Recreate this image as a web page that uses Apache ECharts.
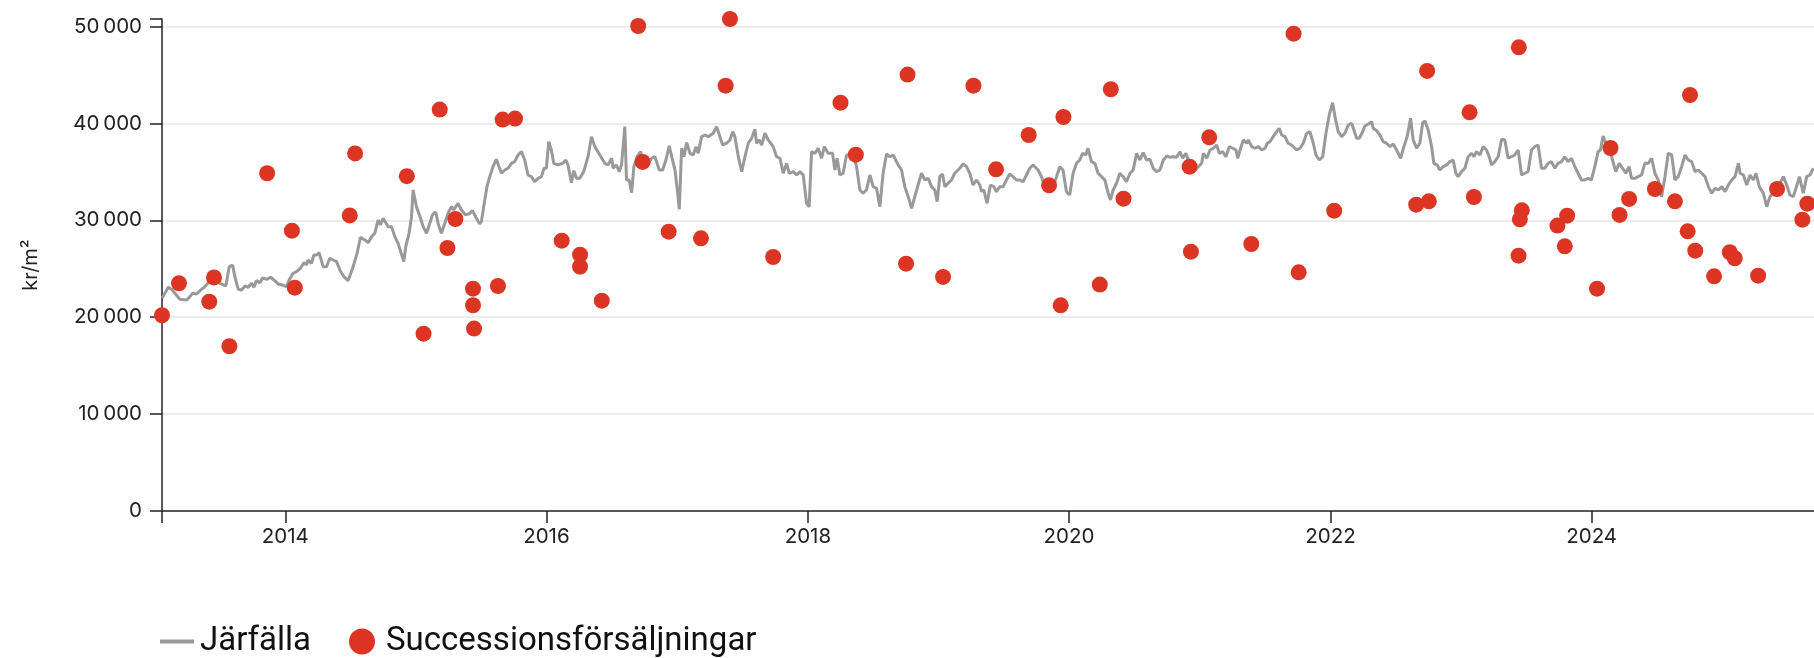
<!DOCTYPE html>
<html>
<head>
<meta charset="utf-8">
<script src="https://cdn.jsdelivr.net/npm/echarts@6/dist/echarts.min.js"></script>
<style>
html,body{margin:0;padding:0;background:#fff;}
#chart{width:1814px;height:658px;}
</style>
</head>
<body>
<div id="chart"></div>
<script>
// ---- data (x as decimal years) ----
const seriesNames = ['Järfälla', 'Successionsförsäljningar'];
const axisStartYear = 2013.056;
const axisEndYear = 2025.700;
const xTickYears = [2014, 2016, 2018, 2020, 2022, 2024];
const yTicks = [0, 10000, 20000, 30000, 40000, 50000];

const lineYears = [
2013.056,2013.104,2013.130,2013.155,2013.193,2013.245,2013.270,2013.290,2013.321,2013.359,
2013.385,2013.410,2013.436,2013.469,2013.499,2013.545,2013.571,2013.597,2013.614,2013.640,
2013.666,2013.691,2013.716,2013.742,2013.760,2013.780,2013.806,2013.826,2013.857,2013.888,
2013.913,2013.946,2013.984,2014.010,2014.030,2014.060,2014.086,2014.117,2014.142,2014.163,
2014.175,2014.201,2014.219,2014.240,2014.259,2014.290,2014.316,2014.341,2014.367,2014.393,
2014.418,2014.449,2014.481,2014.520,2014.550,2014.576,2014.609,2014.635,2014.661,2014.686,
2014.711,2014.729,2014.749,2014.788,2014.814,2014.839,2014.864,2014.908,2014.923,2014.948,
2014.967,2014.979,2015.005,2015.036,2015.056,2015.082,2015.107,2015.127,2015.153,2015.170,
2015.196,2015.222,2015.247,2015.273,2015.290,2015.323,2015.349,2015.382,2015.413,2015.434,
2015.464,2015.489,2015.502,2015.528,2015.545,2015.566,2015.591,2015.617,2015.637,2015.656,
2015.681,2015.706,2015.732,2015.757,2015.783,2015.809,2015.834,2015.859,2015.885,2015.910,
2015.936,2015.962,2015.982,2016.000,2016.018,2016.038,2016.056,2016.089,2016.127,2016.148,
2016.165,2016.191,2016.209,2016.230,2016.255,2016.285,2016.318,2016.344,2016.370,2016.408,
2016.446,2016.471,2016.498,2016.510,2016.536,2016.556,2016.574,2016.599,2016.612,2016.632,
2016.651,2016.668,2016.693,2016.720,2016.752,2016.778,2016.804,2016.829,2016.862,2016.888,
2016.913,2016.938,2016.957,2016.982,2017.003,2017.015,2017.033,2017.051,2017.072,2017.097,
2017.122,2017.143,2017.160,2017.186,2017.212,2017.237,2017.275,2017.301,2017.326,2017.347,
2017.378,2017.403,2017.424,2017.441,2017.467,2017.493,2017.518,2017.543,2017.569,2017.594,
2017.607,2017.627,2017.646,2017.671,2017.696,2017.715,2017.734,2017.760,2017.786,2017.811,
2017.837,2017.857,2017.888,2017.914,2017.939,2017.964,2017.990,2018.010,2018.028,2018.054,
2018.079,2018.105,2018.125,2018.155,2018.189,2018.207,2018.224,2018.245,2018.270,2018.296,
2018.347,2018.373,2018.398,2018.423,2018.449,2018.475,2018.500,2018.526,2018.551,2018.576,
2018.602,2018.628,2018.653,2018.666,2018.691,2018.717,2018.742,2018.768,2018.794,2018.819,
2018.844,2018.870,2018.896,2018.921,2018.947,2018.972,2018.990,2019.010,2019.031,2019.049,
2019.074,2019.100,2019.125,2019.163,2019.189,2019.215,2019.240,2019.265,2019.291,2019.317,
2019.330,2019.347,2019.372,2019.398,2019.424,2019.444,2019.470,2019.495,2019.521,2019.546,
2019.571,2019.597,2019.623,2019.648,2019.674,2019.699,2019.724,2019.737,2019.763,2019.789,
2019.814,2019.839,2019.865,2019.904,2019.929,2019.954,2019.980,2020.005,2020.031,2020.057,
2020.082,2020.103,2020.128,2020.145,2020.171,2020.197,2020.222,2020.248,2020.273,2020.299,
2020.317,2020.337,2020.363,2020.388,2020.413,2020.439,2020.465,2020.490,2020.516,2020.541,
2020.566,2020.592,2020.618,2020.643,2020.669,2020.694,2020.720,2020.746,2020.771,2020.796,
2020.822,2020.847,2020.868,2020.893,2020.911,2020.937,2020.962,2020.987,2021.013,2021.026,
2021.052,2021.077,2021.102,2021.128,2021.148,2021.174,2021.199,2021.225,2021.251,2021.276,
2021.289,2021.307,2021.332,2021.358,2021.370,2021.396,2021.421,2021.447,2021.473,2021.498,
2021.516,2021.536,2021.561,2021.587,2021.607,2021.626,2021.651,2021.676,2021.702,2021.715,
2021.741,2021.766,2021.791,2021.817,2021.842,2021.868,2021.888,2021.914,2021.940,2021.965,
2021.990,2022.016,2022.034,2022.059,2022.085,2022.110,2022.136,2022.162,2022.187,2022.200,
2022.220,2022.246,2022.263,2022.289,2022.315,2022.327,2022.353,2022.378,2022.403,2022.429,
2022.455,2022.480,2022.506,2022.537,2022.562,2022.587,2022.613,2022.633,2022.659,2022.684,
2022.705,2022.723,2022.748,2022.774,2022.791,2022.817,2022.837,2022.863,2022.889,2022.914,
2022.939,2022.960,2022.977,2023.003,2023.029,2023.054,2023.080,2023.098,2023.118,2023.144,
2023.169,2023.195,2023.215,2023.233,2023.258,2023.284,2023.310,2023.335,2023.360,2023.386,
2023.411,2023.437,2023.463,2023.488,2023.513,2023.539,2023.565,2023.590,2023.616,2023.641,
2023.666,2023.692,2023.718,2023.743,2023.769,2023.794,2023.819,2023.845,2023.871,2023.896,
2023.922,2023.947,2023.972,2023.998,2024.024,2024.049,2024.067,2024.087,2024.108,2024.133,
2024.159,2024.184,2024.210,2024.236,2024.261,2024.286,2024.305,2024.330,2024.355,2024.381,
2024.406,2024.432,2024.458,2024.483,2024.508,2024.534,2024.560,2024.585,2024.611,2024.636,
2024.661,2024.687,2024.713,2024.738,2024.764,2024.789,2024.814,2024.840,2024.866,2024.891,
2024.917,2024.942,2024.968,2024.994,2025.019,2025.044,2025.070,2025.095,2025.121,2025.134,
2025.159,2025.185,2025.210,2025.235,2025.256,2025.281,2025.312,2025.338,2025.363,2025.388,
2025.415,2025.440,2025.465,2025.491,2025.516,2025.542,2025.562,2025.588,2025.618,2025.644,
2025.669,2025.695
];
const lineValues = [
21950,23090,22880,22470,21850,21780,22120,22470,22390,22880,
23150,23560,23560,23840,23500,23220,25210,25360,24180,22880,
22810,23220,23090,23500,23090,23770,23560,24050,23910,24120,
23840,23430,23290,23150,23840,24530,24700,25050,25620,25390,
25900,25560,26420,26420,26660,25210,25210,26080,25900,25730,
24870,24180,23770,25210,26590,28250,27970,27690,28310,28660,
30030,29520,30210,29340,29340,28310,27630,25730,27280,28660,
30370,33130,31400,30210,29340,28660,29690,30550,30860,29690,
28660,29690,30720,31400,31060,31750,31060,30550,30720,30990,
30210,29620,29860,32100,33470,34500,35530,36290,35530,34850,
35190,35370,35880,36050,36740,37080,36220,34670,34500,33980,
34330,34500,35370,35370,38110,37250,35880,35710,35880,36220,
35710,33880,35120,34330,34330,35020,36560,38630,37600,36740,
35880,35710,36400,35370,35710,35020,35710,39660,34160,34160,
32850,35530,36560,37080,35710,35880,36400,36560,35190,35190,
36220,37670,36560,35190,32790,31140,37430,36560,38010,36910,
36740,37600,36910,38630,38800,38630,38980,39660,38630,37770,
37950,38290,39140,38630,36560,35020,36560,37950,38460,39390,
37950,38290,37770,38980,38290,37950,37600,36560,36400,34850,
35880,34850,35020,34670,35020,34670,31750,31400,37080,36910,
37430,36400,37600,36910,36910,35190,36400,34670,34850,36740,
36740,35530,33130,32790,33130,34670,33470,33300,31400,34850,
36840,36560,36740,36910,35710,35190,33470,32440,31240,32440,
33640,34850,34160,34330,33470,33130,31920,34500,34780,33470,
33820,34160,34850,35370,35810,35530,34850,33640,34160,33640,
32950,33130,31750,33640,33470,32950,33470,33470,34160,34780,
34500,34160,34160,33980,34670,35370,35710,35880,35190,34500,
33470,33640,32950,34500,35530,35190,32950,32610,34850,35880,
36220,36910,36740,37430,36050,35880,34850,34500,34160,32790,
32100,33130,33820,34850,34500,33980,34850,35190,36910,36220,
36980,36220,36290,35370,35020,35190,36220,36640,36500,36560,
36500,37080,36400,36910,36220,35530,35190,35530,35880,36910,
36400,37250,37430,37770,36910,37080,36560,37600,37430,37250,
36400,37250,38290,37950,38290,37600,37430,37600,37250,37430,
37950,38110,38630,39140,39490,38800,38630,37950,37770,37950,
37250,37430,37950,38980,39140,37950,36740,36220,36560,38980,
40870,42140,40690,39140,38630,38980,39830,40010,38980,38460,
38460,39140,39730,39940,40180,39490,39250,38800,38110,37950,
37600,37870,37250,36400,37600,38630,40530,38290,37430,37950,
40010,40280,39320,37600,35880,35710,35190,35530,35710,36050,
36220,34850,34500,35020,35370,36560,36910,36560,37080,36740,
37600,37250,36560,35710,36050,36560,38360,38290,36400,36560,
36740,37250,34670,34850,35020,37250,37600,37770,35370,35370,
35880,36050,35370,35880,36050,36560,36050,36400,35530,34850,
34160,34160,34330,34160,35530,37080,37250,38700,37950,37600,
36220,35020,35880,35370,34850,35530,34330,34330,34500,34670,
35880,35880,36400,34850,34160,32440,34500,36910,36740,34160,
34500,35530,36740,36220,36050,35020,35190,34850,34500,33470,
32790,33300,33130,33470,32950,33640,34160,34500,35880,34850,
34670,33640,34670,34160,34850,33470,32790,31400,32440,32790,
33130,33820,34500,33640,32610,32440,33300,34500,32790,34500,
34670,35370
];

const salesYears = [
2013.056,2013.186,2013.418,2013.454,2013.572,2013.861,2014.051,2014.073,2014.494,2014.535,
2014.931,2015.059,2015.183,2015.242,2015.303,2015.438,2015.438,2015.446,2015.629,2015.665,
2015.760,2016.117,2016.257,2016.257,2016.423,2016.701,2016.735,2016.934,2017.181,2017.370,
2017.403,2017.734,2018.250,2018.367,2018.752,2018.763,2019.035,2019.268,2019.441,2019.691,
2019.847,2019.936,2019.957,2020.235,2020.319,2020.416,2020.921,2020.931,2021.071,2021.393,
2021.717,2021.756,2022.028,2022.656,2022.740,2022.753,2023.065,2023.098,2023.440,2023.442,
2023.450,2023.465,2023.738,2023.794,2023.812,2024.041,2024.144,2024.213,2024.286,2024.483,
2024.636,2024.733,2024.751,2024.791,2024.935,2025.055,2025.093,2025.272,2025.417,2025.611,
2025.649
];
const salesValues = [
20200,23500,21600,24100,17000,34850,28930,23050,30500,36900,
34550,18300,41420,27140,30130,22940,21230,18820,23220,40390,
40490,27900,26450,25210,21700,50050,36020,28820,28140,43890,
50770,26210,42140,36770,25520,45030,24150,43890,35260,38800,
33610,21220,40660,23360,43520,32230,35530,26760,38560,27550,
49260,24630,30990,31610,45410,31960,41140,32400,26350,47850,
30100,31030,29450,27310,30480,22940,37460,30550,32200,33230,
31960,28860,42930,26860,24220,26700,26080,24280,33230,30060,
31710
];

// ---- helpers ----
function yearToTs(y) {
  const Y = Math.floor(y);
  const a = Date.UTC(Y, 0, 1), b = Date.UTC(Y + 1, 0, 1);
  return a + (y - Y) * (b - a);
}
const xMin = yearToTs(axisStartYear);
const xMax = yearToTs(axisEndYear);
const xLabelTs = xTickYears.map(y => Date.UTC(y, 0, 1));
const yMax = Math.max.apply(null, salesValues.concat(lineValues));

const lineData = lineYears.map((y, i) => [yearToTs(y), lineValues[i]]);
const salesData = salesYears.map((y, i) => [yearToTs(y), salesValues[i]]);

const axisColor = '#222';
const lineColor = '#999999';
const dotColor = '#dd3524';
const font = 'Inter, Roboto, "DejaVu Sans", sans-serif';
const legendText = {fontSize: 33, fontFamily: 'Roboto, sans-serif', color: '#111'};

const chart = echarts.init(document.getElementById('chart'), null, {renderer: 'canvas'});
chart.setOption({
  animation: false,
  backgroundColor: '#ffffff',
  grid: {left: 162, right: 0, top: 19, bottom: 147, containLabel: false},
  legend: [
    {
      left: 160, top: 625, padding: 0, selectedMode: false,
      itemWidth: 34, itemHeight: 4, icon: 'rect',
      textStyle: Object.assign({padding: [0, 0, 0, 1]}, legendText),
      itemStyle: {color: lineColor},
      data: [seriesNames[0]]
    },
    {
      left: 349, top: 625, padding: 0, selectedMode: false,
      itemWidth: 34, itemHeight: 26, icon: 'circle',
      textStyle: Object.assign({padding: [0, 0, 0, 2]}, legendText),
      data: [seriesNames[1]]
    }
  ],
  xAxis: {
    type: 'value',
    min: xMin, max: xMax,
    axisLine: {show: true, onZero: false, lineStyle: {color: axisColor, width: 1.5}},
    axisTick: {show: true, length: 12, lineStyle: {color: axisColor, width: 1.5},
      customValues: [xMin].concat(xLabelTs)},
    axisLabel: {customValues: xLabelTs, margin: 15, fontSize: 20.5, fontFamily: font, color: axisColor,
      formatter: v => String(new Date(v).getUTCFullYear())},
    splitLine: {show: false}
  },
  yAxis: {
    type: 'value',
    min: 0, max: yMax, interval: 10000,
    name: 'kr/m²', nameLocation: 'middle', nameGap: 121, nameMoveOverlap: false,
    nameTextStyle: {fontSize: 20, fontFamily: font, color: axisColor},
    axisLine: {show: true, onZero: false, lineStyle: {color: axisColor, width: 1.5}},
    axisTick: {show: true, length: 12, lineStyle: {color: axisColor, width: 1.5},
      customValues: yTicks.concat([yMax])},
    axisLabel: {customValues: yTicks, margin: 20, fontSize: 20.5, fontFamily: font, color: axisColor,
      formatter: v => v === 0 ? '0' : (v / 1000) + '\u2009000'},
    splitLine: {show: true, showMinLine: false, showMaxLine: false,
      lineStyle: {color: '#e6e6e6', width: 1.5}}
  },
  series: [
    {
      name: seriesNames[0], type: 'line', data: lineData,
      symbol: 'none', showSymbol: false, silent: true,
      lineStyle: {color: lineColor, width: 3},
      itemStyle: {color: lineColor},
      z: 2
    },
    {
      name: seriesNames[1], type: 'scatter', data: salesData,
      symbol: 'circle', symbolSize: 16,
      itemStyle: {color: dotColor, opacity: 1},
      z: 3
    }
  ]
});
</script>
</body>
</html>
